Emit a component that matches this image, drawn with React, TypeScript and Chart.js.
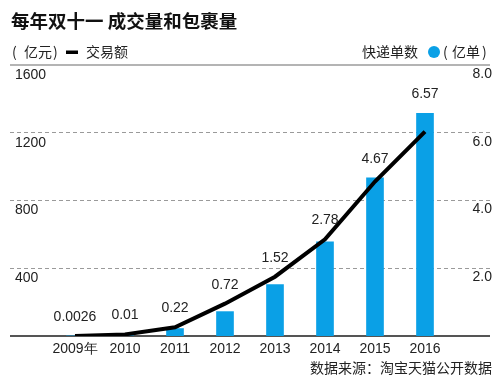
import React, { useEffect, useRef } from "react";
import { Chart, registerables } from "chart.js";

Chart.register(...registerables);

const years = [2009, 2010, 2011, 2012, 2013, 2014, 2015, 2016];
const yearLabels = ["2009年", "2010", "2011", "2012", "2013", "2014", "2015", "2016"];
// 交易额 (亿元)
const gmv = [0.52, 9.36, 52, 191, 350, 571, 912, 1207];
// 快递单数 (亿单)
const parcels = [0.0026, 0.01, 0.22, 0.72, 1.52, 2.78, 4.67, 6.57];
const leftTicks = [400, 800, 1200, 1600];
const rightTicks = [2, 4, 6, 8];

const X_MIN = 2007.7;
const X_MAX = 2017.3;

const TITLE = "每年双十一 成交量和包裹量";
const SOURCE = "数据来源：淘宝天猫公开数据";
const BLUE = "#0aa0e6";
const NUM_FONT = '"Liberation Sans", Arial, sans-serif';
const CJK_FONT = '"Noto Sans CJK SC", sans-serif';

const headerPlugin = {
  id: "header",
  afterDraw(chart: any) {
    const ctx = chart.ctx;
    ctx.save();
    ctx.textBaseline = "middle";
    // title
    ctx.fillStyle = "#111";
    ctx.font = `bold 18.5px ${CJK_FONT}`;
    ctx.textAlign = "left";
    ctx.fillText(TITLE, 11, 21);
    // left legend
    ctx.fillStyle = "#222";
    ctx.font = `14px ${CJK_FONT}`;
    ctx.fillText("(", 12, 52);
    ctx.fillText("亿元", 24, 52);
    ctx.fillText(")", 53, 52);
    ctx.fillStyle = "#000";
    ctx.fillRect(66, 50.5, 12, 3.5);
    ctx.fillStyle = "#222";
    ctx.fillText("交易额", 86, 52);
    // right legend
    ctx.textAlign = "right";
    ctx.fillText("快递单数", 418, 52);
    ctx.fillStyle = BLUE;
    ctx.beginPath();
    ctx.arc(434, 52, 6, 0, Math.PI * 2);
    ctx.fill();
    ctx.fillStyle = "#222";
    ctx.textAlign = "left";
    ctx.fillText("(", 443, 52);
    ctx.fillText("亿单", 452, 52);
    ctx.fillText(")", 482, 52);
    // source
    ctx.textAlign = "right";
    ctx.fillText(SOURCE, 492, 368);
    ctx.restore();
  },
};

const valueLabelPlugin = {
  id: "valueLabels",
  afterDatasetsDraw(chart: any) {
    const ctx = chart.ctx;
    const lineMeta = chart.getDatasetMeta(0);
    const barMeta = chart.getDatasetMeta(1);
    ctx.save();
    ctx.fillStyle = "#222";
    ctx.font = `14px ${NUM_FONT}`;
    ctx.textAlign = "center";
    ctx.textBaseline = "middle";
    parcels.forEach((v, i) => {
      const bar = barMeta.data[i];
      const pt = lineMeta.data[i];
      const y = Math.min(bar.y, pt.y) - 19;
      ctx.fillText(String(v), bar.x, y);
    });
    ctx.restore();
  },
};

export default function App() {
  const ref = useRef<HTMLCanvasElement | null>(null);
  useEffect(() => {
    if (!ref.current) return;
    const chart = new Chart(ref.current, {
      type: "bar",
      data: {
        datasets: [
          {
            type: "line",
            label: "交易额",
            data: years.map((y, i) => ({ x: y, y: gmv[i] })),
            yAxisID: "y",
            borderColor: "#000",
            borderWidth: 4,
            pointRadius: 0,
            tension: 0,
            fill: false,
          } as any,
          {
            type: "bar",
            label: "快递单数",
            data: years.map((y, i) => ({ x: y, y: parcels[i] })),
            yAxisID: "y1",
            backgroundColor: BLUE,
            barThickness: 17,
          },
        ],
      },
      options: {
        responsive: false,
        animation: false,
        layout: { padding: { left: 10, right: 10, top: 65, bottom: 19.2 } },
        plugins: {
          legend: { display: false },
          tooltip: { enabled: false },
          title: { display: false },
        },
        scales: {
          x: {
            type: "linear",
            offset: false,
            bounds: "data",
            min: X_MIN,
            max: X_MAX,
            grid: { display: false, drawTicks: false, offset: false },
            border: { display: false },
            afterBuildTicks: (axis: any) => {
              axis.ticks = years.map((v) => ({ value: v }));
            },
            afterFit: (axis: any) => {
              axis.paddingLeft = 0;
              axis.paddingRight = 0;
            },
            ticks: {
              autoSkip: false,
              maxRotation: 0,
              padding: 5,
              color: "#222",
              font: { family: NUM_FONT, size: 14 },
              callback: (v: any) => {
                const i = years.indexOf(Number(v));
                return i >= 0 ? yearLabels[i] : "";
              },
            },
          },
          y: {
            position: "left",
            min: 0,
            max: 1600,
            afterBuildTicks: (axis: any) => {
              axis.ticks = [0, ...leftTicks].map((v) => ({ value: v }));
            },
            afterFit: (axis: any) => {
              axis.width = 0;
              axis.paddingTop = 0;
              axis.paddingBottom = 0;
            },
            grid: {
              drawTicks: false,
              color: (c: any) =>
                c.tick && c.tick.value === 0 ? "#555" : c.tick && c.tick.value === 1600 ? "#b4b4b4" : "#9a9a9a",
              lineWidth: (c: any) => (c.tick && (c.tick.value === 0 || c.tick.value === 1600) ? 2 : 1),
            },
            border: {
              display: false,
              dash: (c: any) => (c.tick && c.tick.value !== 0 && c.tick.value !== 1600 ? [4, 3] : []),
            } as any,
            ticks: {
              mirror: true,
              padding: 5,
              labelOffset: 10,
              color: "#222",
              font: { family: NUM_FONT, size: 14 },
              callback: (v: any) => (Number(v) === 0 ? "" : String(v)),
            },
          },
          y1: {
            position: "right",
            min: 0,
            max: 8,
            afterBuildTicks: (axis: any) => {
              axis.ticks = [0, ...rightTicks].map((v) => ({ value: v }));
            },
            afterFit: (axis: any) => {
              axis.width = 0;
              axis.paddingTop = 0;
              axis.paddingBottom = 0;
            },
            grid: { display: false, drawTicks: false },
            border: { display: false },
            ticks: {
              mirror: true,
              padding: 2,
              labelOffset: 9,
              color: "#222",
              font: { family: NUM_FONT, size: 14 },
              callback: (v: any) => (Number(v) === 0 ? "" : Number(v).toFixed(1)),
            },
          },
        },
      } as any,
      plugins: [headerPlugin, valueLabelPlugin],
    });
    return () => chart.destroy();
  }, []);
  return (
    <div style={{ position: "absolute", left: 0, top: 0, width: 500, height: 382, background: "#fff" }}>
      <canvas ref={ref} width={500} height={382} />
    </div>
  );
}
